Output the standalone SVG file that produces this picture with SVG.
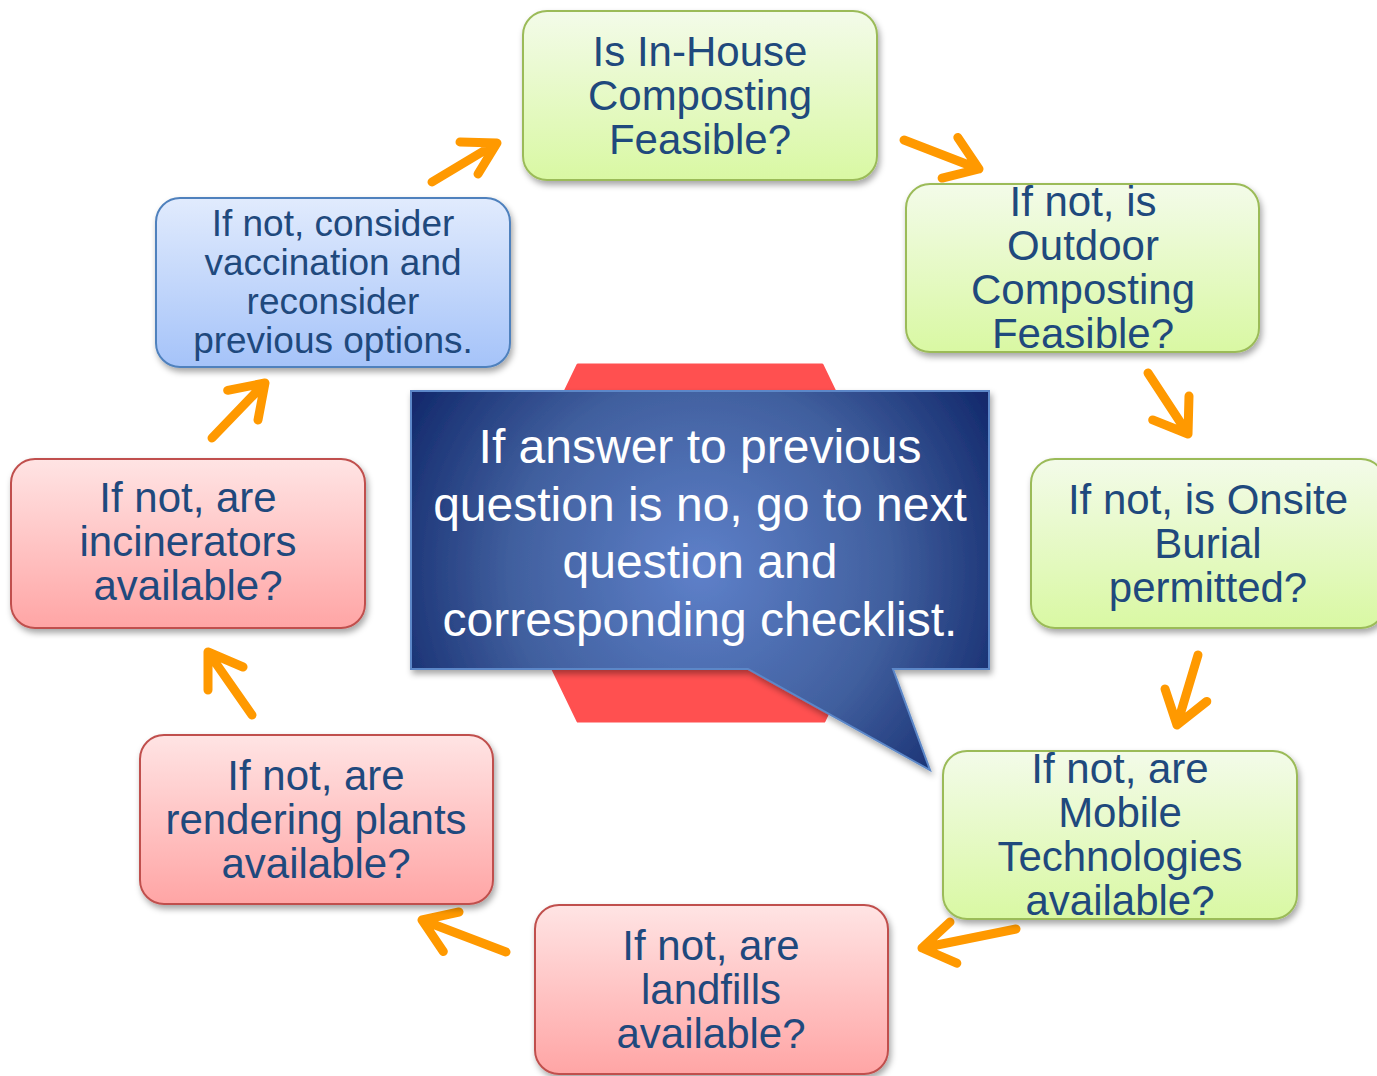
<svg xmlns="http://www.w3.org/2000/svg" width="1377" height="1076" viewBox="0 0 1377 1076">
<defs>
<linearGradient id="gGreen" x1="0" y1="0" x2="0" y2="1">
<stop offset="0" stop-color="#F3FBE9"/>
<stop offset="1" stop-color="#D9F8A3"/>
</linearGradient>
<linearGradient id="gRed" x1="0" y1="0" x2="0" y2="1">
<stop offset="0" stop-color="#FFE4E4"/>
<stop offset="1" stop-color="#FFA5A5"/>
</linearGradient>
<linearGradient id="gBlue" x1="0" y1="0" x2="0" y2="1">
<stop offset="0" stop-color="#E1EBFD"/>
<stop offset="1" stop-color="#A5C3F9"/>
</linearGradient>
<radialGradient id="gCallout" gradientUnits="userSpaceOnUse" cx="700" cy="570" r="340">
<stop offset="0" stop-color="#5E80C9"/>
<stop offset="0.55" stop-color="#41609F"/>
<stop offset="1" stop-color="#11276A"/>
</radialGradient>
<filter id="shadow" x="-10%" y="-10%" width="130%" height="140%">
<feDropShadow dx="2" dy="4" stdDeviation="3" flood-color="#000" flood-opacity="0.35"/>
</filter>
<style>
.box{stroke-width:2;filter:url(#shadow)}
.green{fill:url(#gGreen);stroke:#9BBB59}
.red{fill:url(#gRed);stroke:#C0504D}
.blue{fill:url(#gBlue);stroke:#4F81BD}
.lbl{font-family:"Liberation Sans",Arial,sans-serif;font-size:42px;fill:#1F497D;text-anchor:middle}
.lbl.sm{font-size:37px}
.callText{font-family:"Liberation Sans",Arial,sans-serif;font-size:48px;fill:#FFFFFF;text-anchor:middle}
.arrow{fill:none;stroke:#FF9900;stroke-width:9;stroke-linecap:round;stroke-linejoin:round}
</style>
</defs>
<rect width="1377" height="1076" fill="#FFFFFF"/>

<g id="hexagon">
<polygon points="578,365 822,365 908,543 824,721 578,721 492,543" fill="#FF5050" stroke="#FF5050" stroke-width="3" stroke-linejoin="round"/>
</g>

<g id="callout">
<path d="M411,391 H989 V669 H893 L930,770 L748,669 H411 Z" fill="url(#gCallout)" stroke="#5B87C8" stroke-width="2" filter="url(#shadow)"/>
<text class="callText" x="700" y="463">If answer to previous</text>
<text class="callText" x="700" y="521">question is no, go to next</text>
<text class="callText" x="700" y="578">question and</text>
<text class="callText" x="700" y="636">corresponding checklist.</text>
</g>

<g id="connectors">
<path class="arrow" d="M432,182 L497,143 M460,142 L497,143 L478,174"/>
<path class="arrow" d="M904,140 L979,169 M957.8,137.4 L979,169 L942.1,178.1"/>
<path class="arrow" d="M1148,373 L1188,434 M1189,396 L1188,434 L1152.7,419.9"/>
<path class="arrow" d="M1198,655 L1177,725 M1206.8,701.4 L1177,725 L1165,688.9"/>
<path class="arrow" d="M1016,929 L922,948 M956.8,963.2 L922,948 L950,922"/>
<path class="arrow" d="M506,952 L422,920 M443.3,951.5 L422,920 L459,912"/>
<path class="arrow" d="M252,715 L208,652 M208,690 L208,652 L243,667"/>
<path class="arrow" d="M212,438 L265,383 M227.7,390.3 L265,383 L258,420"/>
</g>

<g id="node-inhouse">
<rect class="box green" x="523" y="11" width="354" height="169" rx="24"/>
<text class="lbl" x="700" y="66">Is In-House</text>
<text class="lbl" x="700" y="110">Composting</text>
<text class="lbl" x="700" y="154">Feasible?</text>
</g>

<g id="node-outdoor">
<rect class="box green" x="906" y="184" width="353" height="168" rx="24"/>
<text class="lbl" x="1083" y="216">If not, is</text>
<text class="lbl" x="1083" y="260">Outdoor</text>
<text class="lbl" x="1083" y="304">Composting</text>
<text class="lbl" x="1083" y="348">Feasible?</text>
</g>

<g id="node-onsite">
<rect class="box green" x="1031" y="459" width="354" height="169" rx="24"/>
<text class="lbl" x="1208" y="514">If not, is Onsite</text>
<text class="lbl" x="1208" y="558">Burial</text>
<text class="lbl" x="1208" y="602">permitted?</text>
</g>

<g id="node-mobile">
<rect class="box green" x="943" y="751" width="354" height="168" rx="24"/>
<text class="lbl" x="1120" y="783">If not, are</text>
<text class="lbl" x="1120" y="827">Mobile</text>
<text class="lbl" x="1120" y="871">Technologies</text>
<text class="lbl" x="1120" y="915">available?</text>
</g>

<g id="node-landfills">
<rect class="box red" x="535" y="905" width="353" height="169" rx="24"/>
<text class="lbl" x="711" y="960">If not, are</text>
<text class="lbl" x="711" y="1004">landfills</text>
<text class="lbl" x="711" y="1048">available?</text>
</g>

<g id="node-rendering">
<rect class="box red" x="140" y="735" width="353" height="169" rx="24"/>
<text class="lbl" x="316" y="790">If not, are</text>
<text class="lbl" x="316" y="834">rendering plants</text>
<text class="lbl" x="316" y="878">available?</text>
</g>

<g id="node-incinerators">
<rect class="box red" x="11" y="459" width="354" height="169" rx="24"/>
<text class="lbl" x="188" y="512">If not, are</text>
<text class="lbl" x="188" y="556">incinerators</text>
<text class="lbl" x="188" y="600">available?</text>
</g>

<g id="node-vaccination">
<rect class="box blue" x="156" y="198" width="354" height="169" rx="24"/>
<text class="lbl sm" x="333" y="236">If not, consider</text>
<text class="lbl sm" x="333" y="275">vaccination and</text>
<text class="lbl sm" x="333" y="314">reconsider</text>
<text class="lbl sm" x="333" y="353">previous options.</text>
</g>
</svg>
